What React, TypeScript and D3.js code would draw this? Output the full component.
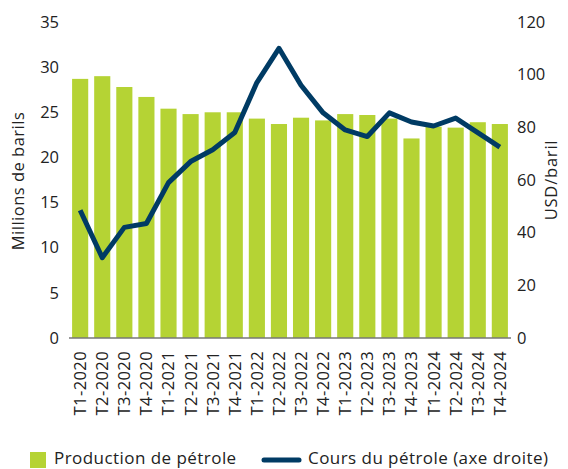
import React from "react";
import * as d3 from "d3";

const quarters = [
  "T1-2020", "T2-2020", "T3-2020", "T4-2020",
  "T1-2021", "T2-2021", "T3-2021", "T4-2021",
  "T1-2022", "T2-2022", "T3-2022", "T4-2022",
  "T1-2023", "T2-2023", "T3-2023", "T4-2023",
  "T1-2024", "T2-2024", "T3-2024", "T4-2024",
];
// millions de barils
const production = [
  28.7, 29.0, 27.8, 26.7,
  25.4, 24.8, 25.0, 25.0,
  24.3, 23.7, 24.4, 24.1,
  24.8, 24.7, 24.3, 22.1,
  23.4, 23.3, 23.9, 23.7,
];
// USD/baril
const price = [
  48.5, 30.5, 42, 43.5,
  59, 67, 71.5, 78,
  97, 110, 96, 85.5,
  79, 76.5, 85.5, 82,
  80.5, 83.5, 78, 72.5,
];
const leftTicks = [0, 5, 10, 15, 20, 25, 30, 35];
const rightTicks = [0, 20, 40, 60, 80, 100, 120];

const GREEN = "#b5d334";
const NAVY = "#003b64";
const FONT = "'Open Sans', sans-serif";

const App = () => {
  const width = 568;
  const height = 469;
  const plot = { left: 69, right: 511, top: 22, bottom: 338 };

  const x = d3
    .scaleBand<string>()
    .domain(quarters)
    .range([plot.left, plot.right])
    .paddingInner(0.27)
    .paddingOuter(0.14);
  const yLeft = d3.scaleLinear().domain([0, 35]).range([plot.bottom, plot.top]);
  const yRight = d3.scaleLinear().domain([0, 120]).range([plot.bottom, plot.top]);

  const line = d3
    .line<number>()
    .x((_, i) => (x(quarters[i]) as number) + x.bandwidth() / 2)
    .y((d) => yRight(d));

  return (
    <svg
      width={width}
      height={height}
      style={{ position: "absolute", left: 0, top: 0, background: "#fff" }}
      fontFamily={FONT}
    >
      {production.map((v, i) => (
        <rect
          key={quarters[i]}
          x={x(quarters[i])}
          y={yLeft(v)}
          width={x.bandwidth()}
          height={yLeft(0) - yLeft(v)}
          fill={GREEN}
        />
      ))}
      <line x1={plot.left} x2={plot.right} y1={plot.bottom} y2={plot.bottom} stroke="#777" strokeWidth={1.5} />
      <path d={line(price) || ""} fill="none" stroke={NAVY} strokeWidth={5} strokeLinejoin="round" />

      {leftTicks.map((t) => (
        <text key={t} x={59} y={yLeft(t)} dy="0.35em" textAnchor="end" fontSize={16.5} fill="#222">
          {t}
        </text>
      ))}
      {rightTicks.map((t) => (
        <text key={t} x={517} y={yRight(t)} dy="0.35em" textAnchor="start" fontSize={16.5} fill="#222">
          {t}
        </text>
      ))}
      {quarters.map((q) => (
        <text
          key={q}
          transform={`translate(${(x(q) as number) + x.bandwidth() / 2},${plot.bottom + 13}) rotate(-90)`}
          dy="0.36em"
          textAnchor="end"
          fontSize={16.5}
          letterSpacing={0.4}
          fill="#222"
        >
          {q}
        </text>
      ))}
      <text transform={`translate(18,181) rotate(-90)`} dy="0.35em" textAnchor="middle" fontSize={16.5} letterSpacing={0.5} fill="#222">
        Millions de barils
      </text>
      <text transform={`translate(551,180) rotate(-90)`} dy="0.35em" textAnchor="middle" fontSize={16.5} letterSpacing={0.8} fill="#222">
        USD/baril
      </text>

      <rect x={30} y={452} width={16} height={16} fill={GREEN} />
      <text x={54} y={464} fontSize={17} letterSpacing={0.45} fill="#222">
        Production de pétrole
      </text>
      <line x1={264} x2={299} y1={460} y2={460} stroke={NAVY} strokeWidth={5} strokeLinecap="round" />
      <text x={308} y={464} fontSize={17} letterSpacing={0.45} fill="#222">
        Cours du pétrole (axe droite)
      </text>
    </svg>
  );
};

export default App;
